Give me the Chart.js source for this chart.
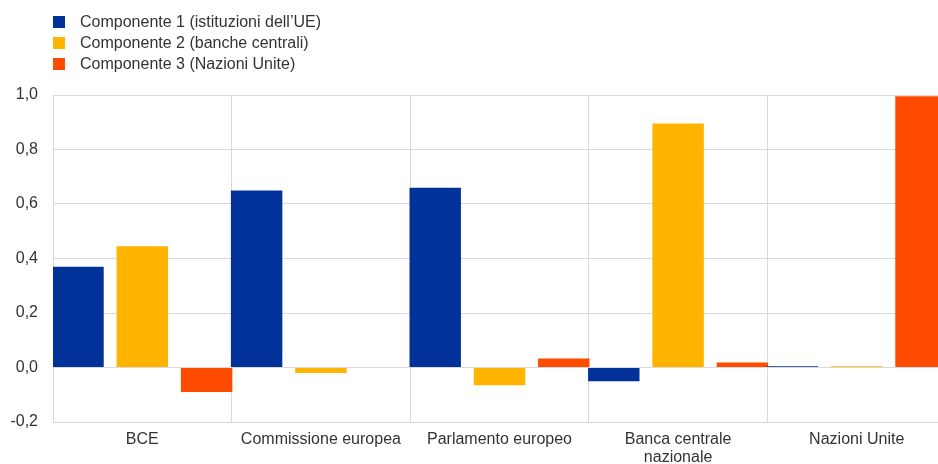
<!DOCTYPE html>
<html>
<head>
<meta charset="utf-8">
<script src="https://cdn.jsdelivr.net/npm/chart.js@4"></script>
<style>
  html, body { margin: 0; padding: 0; background: #fff; overflow: hidden; }
  #wrap { position: relative; width: 938px; height: 464px; overflow: hidden; }
  #chart-box { position: absolute; left: 0; top: 0; width: 960px; height: 464px; }
  #legend { position: absolute; left: 53px; top: 11px; font: 16px "Liberation Sans", Arial, sans-serif; color: #333; }
  .lg-item { height: 21px; line-height: 21px; display: flex; align-items: center; }
  .lg-box { width: 12px; height: 12px; margin-right: 15px; }
</style>
</head>
<body>
<div id="wrap">
  <div id="chart-box"><canvas id="c"></canvas></div>
  <div id="legend"></div>
</div>
<script>
// ─────────────────────────────────────────────
//  DATA
// ─────────────────────────────────────────────
const categories = ['BCE', 'Commissione europea', 'Parlamento europeo', ['Banca centrale', 'nazionale'], 'Nazioni Unite'];
const seriesNames = ['Componente 1 (istituzioni dell\u2019UE)', 'Componente 2 (banche centrali)', 'Componente 3 (Nazioni Unite)'];
const comp1 = [0.37, 0.65, 0.66, -0.05, 0.005];
const comp2 = [0.445, -0.02, -0.065, 0.895, 0.005];
const comp3 = [-0.09, 0, 0.033, 0.018, 0.995];
const colors = ['#003299', '#FFB400', '#FF4B00'];
const yTicks = [-0.2, 0, 0.2, 0.4, 0.6, 0.8, 1.0];

const FONT = '"Liberation Sans", Arial, sans-serif';
const GRID = '#d9d9d9';

// legend (stacked, top-left)
document.getElementById('legend').innerHTML = seriesNames.map((n, i) => `
  <div class="lg-item"><span class="lg-box" style="background:${colors[i]}"></span>${n}</div>`).join('');

const values = [comp1, comp2, comp3];

new Chart(document.getElementById('c').getContext('2d'), {
  type: 'bar',
  data: {
    labels: categories,
    datasets: values.map((v, i) => ({
      label: seriesNames[i],
      data: v,
      backgroundColor: colors[i],
      borderWidth: 0,
      categoryPercentage: 1.08,
      barPercentage: 0.8
    }))
  },
  options: {
    responsive: true,
    maintainAspectRatio: false,
    animation: false,
    layout: { padding: { top: 95, right: 14, left: 0, bottom: 0 } },
    plugins: { legend: { display: false }, tooltip: { enabled: false } },
    scales: {
      x: {
        grid: { color: GRID, lineWidth: 1, offset: true, drawTicks: false },
        border: { color: GRID },
        ticks: { color: '#333', font: { family: FONT, size: 16, lineHeight: 1.1 }, padding: 9, maxRotation: 0, autoSkip: false },
        afterFit: s => { s.height = 42; }
      },
      y: {
        min: -0.2, max: 1.0,
        grid: { color: GRID, lineWidth: 1, drawTicks: false },
        border: { color: GRID },
        afterBuildTicks: s => { s.ticks = yTicks.map(v => ({ value: v })); },
        ticks: {
          color: '#333', font: { family: FONT, size: 16 }, padding: 15,
          callback: v => v.toFixed(1).replace('.', ',')
        },
        afterFit: s => { s.width = 53; }
      }
    }
  }
});
</script>
</body>
</html>
